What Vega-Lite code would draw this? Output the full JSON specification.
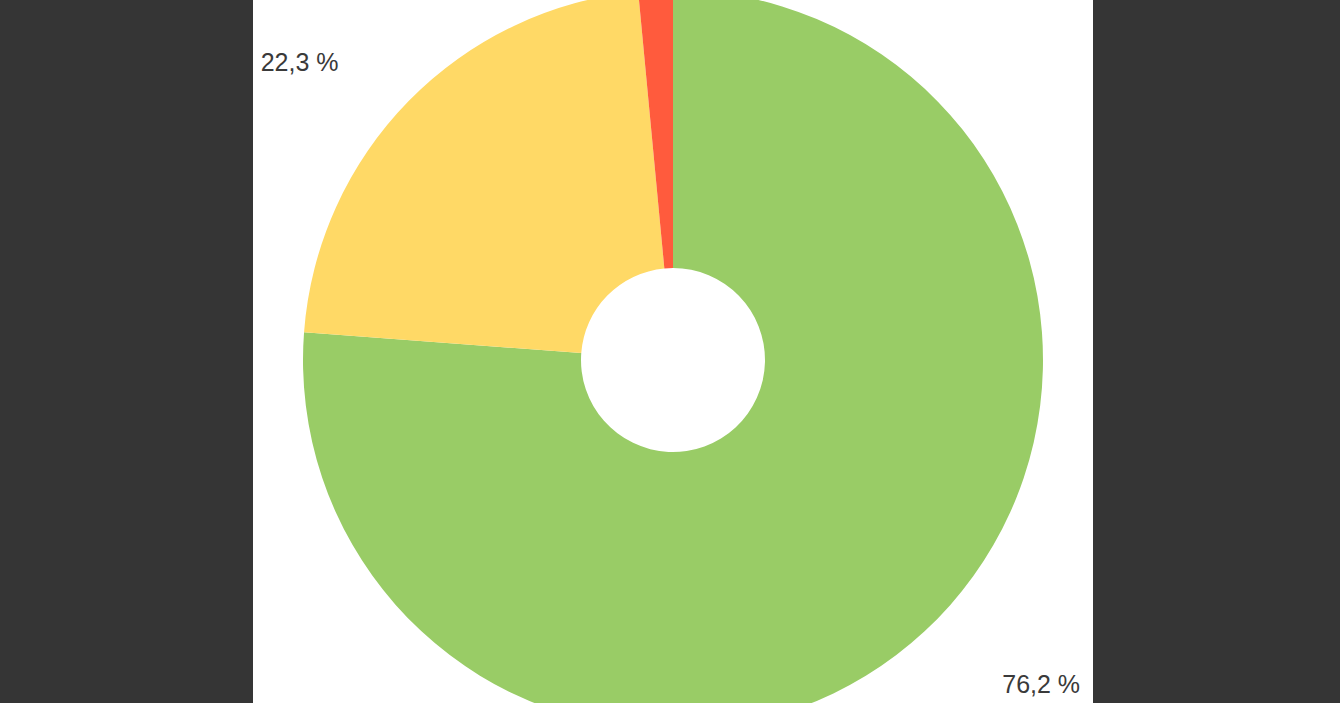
{
  "$schema": "https://vega.github.io/schema/vega-lite/v6.json",
  "width": 840,
  "height": 720,
  "autosize": {"type": "none"},
  "padding": {"left": 253, "right": 247, "top": 0, "bottom": 0},
  "background": "#353535",
  "config": {"view": {"stroke": null}},
  "data": {
    "values": [
      {"category": "A", "value": 76.2, "label": "76,2 %"},
      {"category": "B", "value": 22.3, "label": "22,3 %"},
      {"category": "C", "value": 1.5, "label": ""}
    ]
  },
  "layer": [
    {
      "mark": {"type": "rect", "fill": "white"},
      "encoding": {}
    },
    {
      "mark": {"type": "arc", "outerRadius": 370, "innerRadius": 92},
      "encoding": {
        "theta": {"field": "value", "type": "quantitative", "stack": true},
        "color": {
          "field": "category",
          "type": "nominal",
          "scale": {"domain": ["A", "B", "C"], "range": ["#99CC66", "#FFD966", "#FF5B3D"]},
          "legend": null
        }
      }
    },
    {
      "mark": {"type": "text", "radius": 491, "thetaOffset": -1.5955, "fontSize": 25, "font": "Liberation Sans", "fill": "#3a3a3a"},
      "encoding": {
        "theta": {"field": "value", "type": "quantitative", "stack": true},
        "text": {"condition": {"test": "datum.category === 'A'", "field": "label"}, "value": ""}
      }
    },
    {
      "mark": {"type": "text", "radius": 477, "thetaOffset": -1.694, "fontSize": 25, "font": "Liberation Sans", "fill": "#3a3a3a"},
      "encoding": {
        "theta": {"field": "value", "type": "quantitative", "stack": true},
        "text": {"condition": {"test": "datum.category === 'B'", "field": "label"}, "value": ""}
      }
    }
  ]
}
